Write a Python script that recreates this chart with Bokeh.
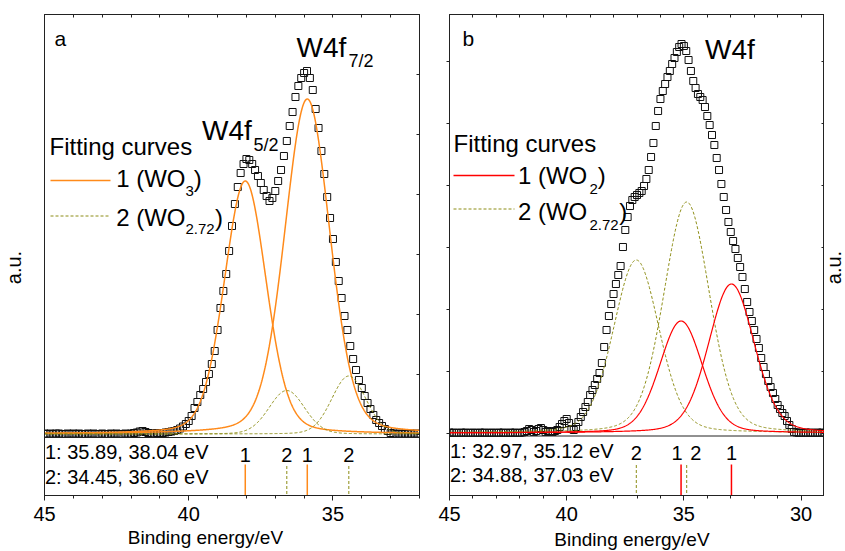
import numpy as np
from bokeh.plotting import figure
from bokeh.layouts import row, column
from bokeh.models import (Range1d, LinearAxis, SingleIntervalTicker, FixedTicker,
                          Label, Span)
from bokeh.embed import file_html
from bokeh.resources import INLINE

FONT = "Liberation Sans"

# ------------------------------------------------------------------ data
# Binding energy grid: start value and step (eV), shared by both spectra
E_START = 45.0
E_STEP = 0.1

# Panel a: measured W4f intensity (a.u.), 45.0 -> 32.0 eV
I_A = [0.5, 0, 0.5, 0, 0.5, 0.5, 0, 0, 0.5, 0,
       0.5, 0, 0.5, 0, 0, 0.5, 0, 0.5, 0, 0,
       0.5, 0, 0, 0.5, 0, 0.5, 0, 0, 0.5, 0,
       0.5,
       1, 1.5, 2.5, 3, 2, 1, 0.5, 0.5, 1, 1,
       1, 1.5, 2, 2.5, 3, 4, 5.5, 7.5, 10, 13,
       18, 26, 32, 39, 45, 52, 60, 70, 83, 104,
       126, 143, 160, 183, 208, 230, 247, 261, 270, 275,
       274, 270, 264, 258, 251, 244, 238, 233, 236, 243,
       253, 264, 278, 293, 308, 322, 337, 348, 356, 361,
       363, 356, 344, 325, 306, 283, 260, 237, 216, 195,
       172, 153, 136, 118, 104, 88, 75, 64, 54, 46,
       38, 31, 25, 19, 14, 11, 8, 5, 3, 1,
       0.5, 0, 0.5, 0, 0.5, 0, 0.5, 0, 0.5, 0]

# Panel b: measured W4f intensity (a.u.), 45.0 -> 29.0 eV
I_B = [0.5, 0, 0.5, 0, 0, 0.5, 0, 0.5, 0, 0,
       0.5, 0, 0, 0.5, 0, 0.5, 0, 0, 0.5, 0,
       0, 0.5, 0, 0.5, 0, 0, 0.5, 0, 0.5, 0,
       0, 0.5, 1,
       2, 4, 3, 1, 2, 4, 5, 3, 1, 2,
       1, 1, 2, 3, 6, 9, 12, 14, 10, 4,
       3, 6, 11, 16, 21, 26, 31, 38, 43, 48,
       54, 60, 70, 86, 103, 117, 129, 139, 149, 158,
       167, 186, 203, 216, 227, 233, 236, 238, 240, 242,
       247, 254, 263, 276, 290, 307, 322, 334, 342, 349,
       356, 362, 369, 375, 381, 386, 389, 387, 382, 373,
       362, 352, 345, 339, 336, 333, 326, 317, 308, 298,
       288, 275, 263, 249, 236, 223, 211, 201, 192, 184,
       175, 166, 156, 144, 131, 121, 112, 103, 94, 85,
       75, 66, 59, 52, 46, 40, 34, 28, 24, 20,
       17, 12, 8, 4, 1, 0.5, 0, 0.5, 0, 0.5,
       0, 0.5, 0, 0, 0.5, 0, 0.5, 0]

# Fitted components: centres (eV), heights (a.u.), FWHM (eV)
A1_CENTER = [35.89, 38.04]   # 1 (WO3)
A1_HEIGHT = [335, 253]
A1_FWHM = [1.85, 1.72]
A2_CENTER = [34.45, 36.60]   # 2 (WO2.72)
A2_HEIGHT = [58, 43.5]
A2_FWHM = [1.40, 1.45]

B1_CENTER = [32.97, 35.12]   # 1 (WO2)
B1_HEIGHT = [149, 112]
B1_FWHM = [2.30, 2.16]
B2_CENTER = [34.88, 37.03]   # 2 (WO2.72)
B2_HEIGHT = [231, 173]
B2_FWHM = [2.30, 2.30]
ETA = 0.2

X_LABEL = "Binding energy/eV"
Y_LABEL = "a.u."

ORANGE = "#ff8a1a"
RED = "#ff0000"
OLIVE = "#8c8c14"
FRAME = "#222222"
TEXT_LIFT = 0.42   # baseline correction, in em

LEFT_STRIP = 30
PA_W, PB_W, RIGHT_STRIP = 400, 394, 21
MAIN_H, LABEL_H = 526, 25


def pvoigt(x, c, h, w, eta=ETA):
    d = (x - c) / w
    return h * (eta / (1 + 4 * d * d) + (1 - eta) * np.exp(-4 * np.log(2) * d * d))


def energies(n):
    return np.round(E_START - E_STEP * np.arange(n), 2)


def hide_labels(ax):
    ax.major_label_text_font_size = "0px"
    ax.major_label_text_color = None
    ax.major_label_standoff = 0
    ax.minor_tick_line_color = None


def make_panel(x_lo, y_lo, y_hi, width, ml, mr, ytick_step, left_ticks):
    p = figure(width=width, height=MAIN_H, x_range=Range1d(E_START, x_lo),
               y_range=Range1d(y_lo, y_hi), x_axis_type=None, y_axis_type=None,
               min_border_left=ml, min_border_right=mr, min_border_top=14,
               min_border_bottom=MAIN_H - 495, toolbar_location=None,
               output_backend="svg")
    p.outline_line_color = FRAME
    p.outline_line_width = 1
    p.background_fill_color = "white"
    p.border_fill_color = "white"

    bottom = LinearAxis(ticker=SingleIntervalTicker(interval=5, num_minor_ticks=5))
    bottom.major_tick_out = 5
    bottom.major_tick_in = 0
    bottom.minor_tick_out = 3
    bottom.minor_tick_in = 0
    bottom.major_label_standoff = 6
    bottom.major_label_text_font = FONT
    bottom.major_label_text_font_size = "20px"
    bottom.major_label_text_color = "black"
    bottom.minor_tick_line_color = FRAME
    p.add_layout(bottom, "below")

    top = LinearAxis(ticker=FixedTicker(ticks=list(range(int(x_lo), 46))))
    top.major_tick_in = 3
    top.major_tick_out = 0
    hide_labels(top)
    p.add_layout(top, "above")

    yt = FixedTicker(ticks=[ytick_step * k for k in range(0, 8)])
    left = LinearAxis(ticker=yt)
    left.major_tick_in = 0
    left.major_tick_out = 3 if left_ticks else 0
    hide_labels(left)
    p.add_layout(left, "left")

    right = LinearAxis(ticker=yt)
    right.major_tick_in = 3
    right.major_tick_out = 0
    hide_labels(right)
    p.add_layout(right, "right")

    for ax in (bottom, top, left, right):
        ax.axis_line_color = FRAME
        ax.major_tick_line_color = FRAME
    return p


def strip(width, height):
    s = figure(width=width, height=height, x_range=Range1d(0, width),
               y_range=Range1d(0, height), x_axis_type=None, y_axis_type=None,
               min_border=0, toolbar_location=None, output_backend="svg")
    s.outline_line_color = None
    s.background_fill_color = "white"
    s.border_fill_color = "white"
    return s


def put(p, text, x, y, size, align="left", x_offset=0):
    """Text whose alphabetic baseline sits at y (data units == pixels)."""
    p.add_layout(Label(x=x, y=y + TEXT_LIFT * size, text=text, text_font=FONT,
                       text_font_size=f"{size}px", text_align=align,
                       text_baseline="alphabetic", x_offset=x_offset,
                       text_color="black"))


def vertical_label(s, text, x, y):
    s.add_layout(Label(x=x, y=y, text=text, text_font=FONT, text_font_size="20px",
                       text_align="center", text_baseline="middle", angle=np.pi / 2,
                       text_color="black"))


# ------------------------------------------------------------------ panel a
BASE_A = 433.5
pa = make_panel(32, BASE_A - 495, BASE_A - 14, PA_W, 44 - LEFT_STRIP, 11, 60, False)


def xa(px):
    return 45 - (px - 44) * 13 / 375


def ya(py):
    return BASE_A - py


ea = energies(len(I_A))
pa.scatter(ea, I_A, marker="square", size=7, line_color="#111111", fill_alpha=0, line_width=1)
xf = np.linspace(45, 32, 700)
for c, h, w in zip(A1_CENTER, A1_HEIGHT, A1_FWHM):
    pa.line(xf, pvoigt(xf, c, h, w), line_color=ORANGE, line_width=1.5)
for c, h, w in zip(A2_CENTER, A2_HEIGHT, A2_FWHM):
    pa.line(xf, pvoigt(xf, c, h, w, 0.1), line_color=OLIVE, line_width=1, line_dash="3 2")

pa.add_layout(Span(location=-3.5, dimension="width", line_color=FRAME, line_width=1))
pa.segment(x0=A1_CENTER, y0=[-70] * 2, x1=A1_CENTER, y1=[-30.5] * 2,
           line_color=ORANGE, line_width=1.5)
pa.segment(x0=A2_CENTER, y0=[-70] * 2, x1=A2_CENTER, y1=[-30.5] * 2,
           line_color=OLIVE, line_width=1, line_dash="3 2")
for c in A1_CENTER:
    put(pa, "1", c, ya(462.7), 20, align="center")
for c in A2_CENTER:
    put(pa, "2", c, ya(462.7), 20, align="center")
put(pa, f"1: {A1_CENTER[0]:.2f}, {A1_CENTER[1]:.2f} eV", xa(44.5), ya(460), 20)
put(pa, f"2: {A2_CENTER[0]:.2f}, {A2_CENTER[1]:.2f} eV", xa(44.5), ya(485), 20)

put(pa, "a", xa(54), ya(46.7), 21)
put(pa, "W4f", xa(296), ya(58.5), 28)
put(pa, "7/2", xa(348), ya(68.5), 18)
put(pa, "W4f", xa(201.5), ya(141.7), 28)
put(pa, "5/2", xa(253), ya(152.5), 18)
put(pa, "Fitting curves", xa(49), ya(156), 24)
pa.line([xa(50), xa(110)], [ya(180), ya(180)], line_color=ORANGE, line_width=1.5)
put(pa, "1 (WO", xa(115.7), ya(188.3), 24)
put(pa, "3", xa(185), ya(197), 15)
put(pa, ")", xa(193.3), ya(188.3), 24)
pa.line([xa(50), xa(110)], [ya(215.5), ya(215.5)], line_color=OLIVE, line_width=1,
        line_dash="3 2")
put(pa, "2 (WO", xa(115.7), ya(227.5), 24)
put(pa, "2.72", xa(185), ya(235), 15)
put(pa, ")", xa(214.5), ya(227.5), 24)

# ------------------------------------------------------------------ panel b
BASE_B = 432.5
pb = make_panel(29, BASE_B - 495, BASE_B - 14, PB_W, 19, 0, 62, True)


def xb(px):
    return 45 - (px - 449) * 16 / 375


def yb(py):
    return BASE_B - py


eb = energies(len(I_B))
pb.scatter(eb, I_B, marker="square", size=7, line_color="#111111", fill_alpha=0, line_width=1)
xg = np.linspace(45, 29, 800)
for c, h, w in zip(B2_CENTER, B2_HEIGHT, B2_FWHM):
    pb.line(xg, pvoigt(xg, c, h, w), line_color=OLIVE, line_width=1, line_dash="3 2")
for c, h, w in zip(B1_CENTER, B1_HEIGHT, B1_FWHM):
    pb.line(xg, pvoigt(xg, c, h, w), line_color=RED, line_width=1.2)

pb.add_layout(Span(location=-3, dimension="width", line_color=FRAME, line_width=1))
pb.segment(x0=B1_CENTER, y0=[-70] * 2, x1=B1_CENTER, y1=[-31.5] * 2,
           line_color=RED, line_width=1.5)
pb.segment(x0=B2_CENTER, y0=[-70] * 2, x1=B2_CENTER, y1=[-31.5] * 2,
           line_color=OLIVE, line_width=1, line_dash="3 2")
put(pb, "1", B1_CENTER[0], yb(460.7), 20, align="center")
put(pb, "1", B1_CENTER[1], yb(460.7), 20, align="center", x_offset=-4)
put(pb, "2", B2_CENTER[0], yb(460.7), 20, align="center", x_offset=9)
put(pb, "2", B2_CENTER[1], yb(460.7), 20, align="center")
put(pb, f"1: {B1_CENTER[0]:.2f}, {B1_CENTER[1]:.2f} eV", xb(449.5), yb(459.3), 20)
put(pb, f"2: {B2_CENTER[0]:.2f}, {B2_CENTER[1]:.2f} eV", xb(449.5), yb(483.3), 20)

put(pb, "b", xb(462), yb(46.7), 21)
put(pb, "W4f", xb(704.5), yb(60.7), 28)
put(pb, "Fitting curves", xb(453), yb(153.5), 24)
pb.line([xb(453), xb(514)], [yb(175), yb(175)], line_color=RED, line_width=1.3)
put(pb, "1 (WO", xb(517.4), yb(184.8), 24)
put(pb, "2", xb(589), yb(194.5), 15)
put(pb, ")", xb(597.3), yb(184.8), 24)
pb.line([xb(453), xb(514)], [yb(208.5), yb(208.5)], line_color=OLIVE, line_width=1,
        line_dash="3 2")
put(pb, "2 (WO", xb(517.4), yb(221), 24)
put(pb, "2.72", xb(589), yb(230.5), 15)
put(pb, ")", xb(618.8), yb(221), 24)

# ------------------------------------------------------------------ axis-title strips
ls = strip(LEFT_STRIP, 551)
vertical_label(ls, Y_LABEL, 13.5, 284)
rs = strip(RIGHT_STRIP, 551)
vertical_label(rs, Y_LABEL, 9.5, 284)

sa = strip(PA_W, LABEL_H)
put(sa, X_LABEL, 201.7 - LEFT_STRIP, 551 - 544.8, 19, align="center")
sb = strip(PB_W, LABEL_H)
put(sb, X_LABEL, 621.7 - 430, 551 - 547, 19, align="center")

layout = row(ls, column(pa, sa), column(pb, sb), rs)
open("out.html", "w").write(file_html(layout, INLINE))
